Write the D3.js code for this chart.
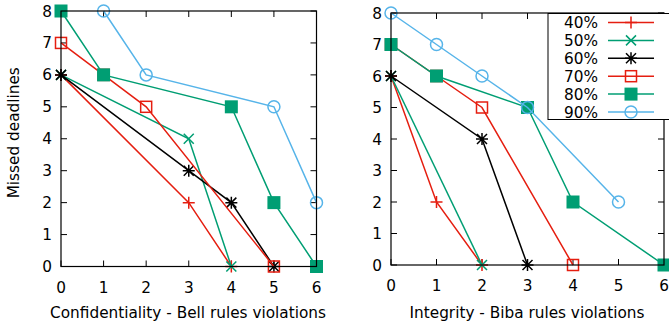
<!DOCTYPE html>
<html><head><meta charset="utf-8">
<script src="https://cdn.jsdelivr.net/npm/d3@7"></script>
<style>body{margin:0;background:#fff}svg{display:block;font-family:"DejaVu Sans",sans-serif}</style>
</head><body><svg id="c" width="669" height="327"></svg>
<script>
const seriesNames = ["40%","50%","60%","70%","80%","90%"];
const seriesColors = ["#e51e10","#009e73","#000000","#e51e10","#009e73","#56b4e9"];
const seriesMarkers = ["plus","cross","star","square","filledSquare","circle"];
const xTicks = [0,1,2,3,4,5,6];
const yTicks = [0,1,2,3,4,5,6,7,8];
// Confidentiality panel: [violations, missed deadlines]
const conf40 = [[0,6],[3,2],[4,0]];
const conf50 = [[0,6],[3,4],[4,0]];
const conf60 = [[0,6],[3,3],[4,2],[5,0]];
const conf70 = [[0,7],[1,6],[2,5],[5,0]];
const conf80 = [[0,8],[1,6],[4,5],[5,2],[6,0]];
const conf90 = [[1,8],[2,6],[5,5],[6,2]];
// Integrity panel
const int40 = [[0,6],[1,2],[2,0]];
const int50 = [[0,6],[2,0]];
const int60 = [[0,6],[2,4],[3,0]];
const int70 = [[0,7],[1,6],[2,5],[4,0]];
const int80 = [[0,7],[1,6],[3,5],[4,2],[6,0]];
const int90 = [[0,8],[1,7],[2,6],[3,5],[5,2]];

const svg = d3.select("#c");
const FS = 15.3;

function marker(g, type, color, x, y){
  const s = 6;
  if(type==="plus"){
    g.append("path").attr("d",`M${x-s},${y}H${x+s}M${x},${y-s}V${y+s}`).attr("stroke",color).attr("stroke-width",1.5);
  } else if(type==="cross"){
    const c=5;
    g.append("path").attr("d",`M${x-c},${y-c}L${x+c},${y+c}M${x-c},${y+c}L${x+c},${y-c}`).attr("stroke",color).attr("stroke-width",1.5);
  } else if(type==="star"){
    const c=5;
    g.append("path").attr("d",`M${x-s},${y}H${x+s}M${x},${y-s}V${y+s}M${x-c},${y-c}L${x+c},${y+c}M${x-c},${y+c}L${x+c},${y-c}`).attr("stroke",color).attr("stroke-width",1.5);
  } else if(type==="square"){
    g.append("rect").attr("x",x-5.5).attr("y",y-5.5).attr("width",11).attr("height",11).attr("fill","none").attr("stroke",color).attr("stroke-width",1.5);
  } else if(type==="filledSquare"){
    g.append("rect").attr("x",x-6.5).attr("y",y-6.5).attr("width",13).attr("height",13).attr("fill",color);
  } else if(type==="circle"){
    g.append("circle").attr("cx",x).attr("cy",y).attr("r",6).attr("fill","none").attr("stroke",color).attr("stroke-width",1.5);
  }
}

function panel(x0,x1,y0,y1,data,xlabel,xlabelX,withYLabel,withLegend){
  const x = d3.scaleLinear().domain([0,6]).range([x0,x1]);
  const y = d3.scaleLinear().domain([0,8]).range([y1,y0]);
  const g = svg.append("g");
  const tk = 6;
  const ax = g.append("g");
  xTicks.forEach(t=>{
    ax.append("line").attr("x1",x(t)).attr("x2",x(t)).attr("y1",y1).attr("y2",y1-tk).attr("stroke","#000");
    ax.append("line").attr("x1",x(t)).attr("x2",x(t)).attr("y1",y0).attr("y2",y0+tk).attr("stroke","#000");
    ax.append("text").attr("x",x(t)).attr("y",y1+26).attr("text-anchor","middle").attr("font-size",FS).attr("fill","#000").text(t);
  });
  yTicks.forEach(t=>{
    ax.append("line").attr("x1",x0).attr("x2",x0+tk).attr("y1",y(t)).attr("y2",y(t)).attr("stroke","#000");
    ax.append("line").attr("x1",x1).attr("x2",x1-tk).attr("y1",y(t)).attr("y2",y(t)).attr("stroke","#000");
    ax.append("text").attr("x",x0-9).attr("y",y(t)+5.5).attr("text-anchor","end").attr("font-size",FS).attr("fill","#000").text(t);
  });
  g.append("text").attr("x",xlabelX).attr("y",318).attr("text-anchor","middle").attr("font-size",FS).text(xlabel);
  if(withYLabel){
    g.append("text").attr("transform",`translate(19,${(y0+y1)/2-6}) rotate(-90)`).attr("text-anchor","middle").attr("font-size",FS).text("Missed deadlines");
  }
  const line = d3.line().x(d=>x(d[0])).y(d=>y(d[1]));
  data.forEach((s,i)=>{
    g.append("path").attr("d",line(s)).attr("fill","none").attr("stroke",seriesColors[i]).attr("stroke-width",1.5);
    s.forEach(d=>marker(g,seriesMarkers[i],seriesColors[i],x(d[0]),y(d[1])));
  });
  g.append("rect").attr("x",x0).attr("y",y0).attr("width",x1-x0).attr("height",y1-y0).attr("fill","none").attr("stroke","#000").attr("stroke-width",1.2);
  if(withLegend){
    const lg = svg.append("g");
    lg.append("rect").attr("x",548).attr("y",13.5).attr("width",130).attr("height",106).attr("fill","#fff").attr("stroke","#000").attr("stroke-width",1);
    seriesNames.forEach((n,i)=>{
      const yy = 22.5 + i*17.9;
      lg.append("text").attr("x",598).attr("y",yy+5.5).attr("text-anchor","end").attr("font-size",FS).text(n);
      lg.append("line").attr("x1",608).attr("x2",654).attr("y1",yy).attr("y2",yy).attr("stroke",seriesColors[i]).attr("stroke-width",1.5);
      marker(lg,seriesMarkers[i],seriesColors[i],631,yy);
    });
  }
}

panel(61,316.5,11,266.5,[conf40,conf50,conf60,conf70,conf80,conf90],"Confidentiality - Bell rules violations",188,true,false);
panel(391,664,13,265,[int40,int50,int60,int70,int80,int90],"Integrity - Biba rules violations",527,false,true);
</script></body></html>
